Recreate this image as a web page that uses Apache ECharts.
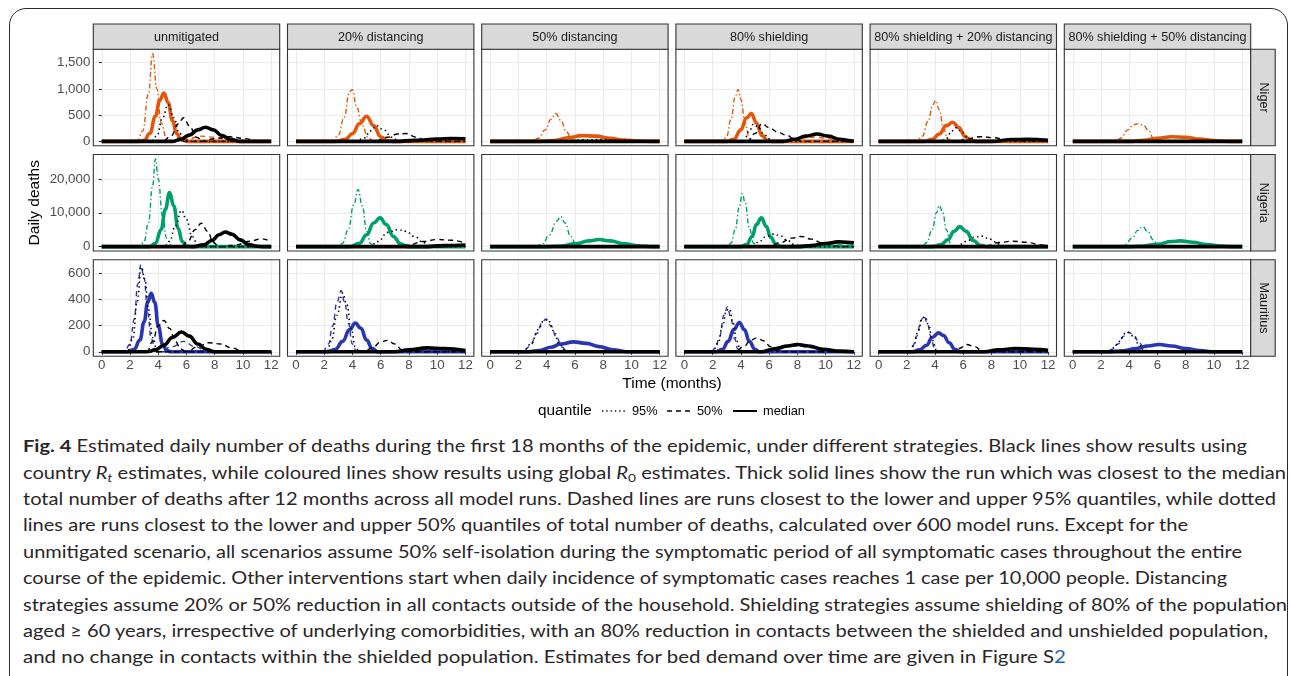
<!DOCTYPE html>
<html><head><meta charset="utf-8">
<script src="https://cdn.jsdelivr.net/npm/echarts@6/dist/echarts.min.js"></script>
<style>
html,body{margin:0;padding:0;background:#fff;width:1290px;height:676px;overflow:hidden;}
#frame{position:absolute;left:9px;top:8px;width:1279px;height:740px;border:1.5px solid #2b2b2b;border-radius:17px;box-sizing:border-box;}
#chart{position:absolute;left:0;top:0;width:1290px;height:430px;}
#caption{position:absolute;left:23px;top:433.3px;font-family:Lato,'Open Sans',sans-serif;font-size:17px;color:#2a2627;}
#caption div{height:26.4px;line-height:26.4px;white-space:nowrap;transform-origin:0 50%;width:max-content;}
#caption sub{font-size:0.68em;line-height:0;vertical-align:-0.28em;}
</style></head>
<body>
<div id="frame"></div>
<div id="chart"></div>
<div id="caption">
<div data-w="1224"><b>Fig. 4</b> Estimated daily number of deaths during the first 18 months of the epidemic, under different strategies. Black lines show results using</div>
<div data-w="1263">country <i>R<sub>t</sub></i> estimates, while coloured lines show results using global <i>R</i><sub>0</sub> estimates. Thick solid lines show the run which was closest to the median</div>
<div data-w="1253">total number of deaths after 12 months across all model runs. Dashed lines are runs closest to the lower and upper 95% quantiles, while dotted</div>
<div data-w="1165">lines are runs closest to the lower and upper 50% quantiles of total number of deaths, calculated over 600 model runs. Except for the</div>
<div data-w="1219">unmitigated scenario, all scenarios assume 50% self-isolation during the symptomatic period of all symptomatic cases throughout the entire</div>
<div data-w="1204">course of the epidemic. Other interventions start when daily incidence of symptomatic cases reaches 1 case per 10,000 people. Distancing</div>
<div data-w="1264">strategies assume 20% or 50% reduction in all contacts outside of the household. Shielding strategies assume shielding of 80% of the population</div>
<div data-w="1245">aged ≥ 60 years, irrespective of underlying comorbidities, with an 80% reduction in contacts between the shielded and unshielded population,</div>
<div data-w="1043">and no change in contacts within the shielded population. Estimates for bed demand over time are given in Figure S<span style="color:#2a5db0">2</span></div>
</div>
<script>
// ---------- categories / ticks ----------
const scenarios = ['unmitigated','20% distancing','50% distancing','80% shielding','80% shielding + 20% distancing','80% shielding + 50% distancing'];
const countries = ['Niger','Nigeria','Mauritius'];
const xTicks = [0,2,4,6,8,10,12];
const nigerTicks = [0,500,1000,1500];
const nigeriaTicks = [0,10000,20000];
const mauritiusTicks = [0,200,400,600];
const nigerMax = 1669, nigeriaMax = 25940, mauritiusMax = 673;

// ---------- Niger (points: [month, daily deaths]) ----------
const nigerColUp = [
 [[0,0],[2.5,0],[2.9,200],[3.3,900],[3.6,1669],[3.9,1000],[4.2,350],[4.6,50],[5.0,0],[12,0]],
 [[0,0],[2.6,0],[3.0,120],[3.4,450],[3.8,950],[4.0,985],[4.3,650],[4.7,300],[5.1,80],[5.5,0],[12,0]],
 [[0,0],[3.0,0],[3.4,60],[3.9,220],[4.3,420],[4.65,530],[5.0,400],[5.4,180],[5.8,40],[6.2,0],[12,0]],
 [[0,0],[2.7,0],[3.0,100],[3.3,420],[3.6,850],[3.8,990],[4.0,800],[4.3,350],[4.6,60],[4.9,0],[12,0]],
 [[0,0],[2.7,0],[3.1,100],[3.5,380],[3.85,700],[4.05,780],[4.3,600],[4.6,250],[4.9,50],[5.2,0],[12,0]],
 [[0,0],[3.0,0],[3.4,60],[3.9,220],[4.3,320],[4.7,340],[5.0,300],[5.4,200],[5.7,60],[6.0,0],[12,0]]
];
const nigerColMed = [
 [[0,0],[2.6,0],[3.0,20],[3.4,150],[3.8,480],[4.1,780],[4.4,920],[4.7,740],[5.0,400],[5.3,150],[5.6,40],[6.0,0],[12,0]],
 [[0,0],[2.8,0],[3.5,40],[4.0,150],[4.5,340],[5.0,480],[5.5,300],[6.0,90],[6.5,10],[7.0,0],[12,0]],
 [[0,0],[3.5,0],[4.5,15],[5.5,70],[6.5,110],[7.5,100],[8.5,60],[9.5,25],[10.5,5],[11.5,0],[12,0]],
 [[0,0],[3.0,0],[3.5,40],[4.0,220],[4.4,450],[4.75,530],[5.1,350],[5.5,110],[5.9,15],[6.2,0],[12,0]],
 [[0,0],[3.2,0],[3.8,40],[4.3,140],[4.8,300],[5.25,365],[5.7,260],[6.1,100],[6.5,20],[7.0,0],[12,0]],
 [[0,0],[4.0,0],[5.0,20],[6.0,60],[7.0,90],[8.0,80],[9.0,45],[10.0,15],[11.0,0],[12,0]]
];
const nigerColLow = [
 [[0,0],[5,0],[6,40],[7,100],[8,80],[9,30],[10,0],[12,0]],
 [[0,0],[6,0],[8,20],[10,25],[12,10]],
 [],
 [[0,0],[6.5,0],[7.5,30],[8.5,70],[9.3,85],[10,60],[11,15],[12,0]],
 [],
 []
];
const nigerBlkDot = [
 [[0,0],[3.5,0],[3.9,100],[4.3,450],[4.7,700],[5.1,450],[5.5,150],[6.0,20],[6.5,0],[12,0]],
 [[0,0],[4.2,0],[4.8,60],[5.3,200],[5.7,300],[6.2,220],[6.8,80],[7.3,0],[12,0]],
 [[0,0],[5,0],[6.5,30],[8,35],[9.5,20],[11,0],[12,0]],
 [[0,0],[4.2,0],[4.6,200],[4.9,330],[5.2,280],[5.6,150],[6.0,50],[6.5,0],[12,0]],
 [[0,0],[4.4,0],[4.8,60],[5.2,200],[5.5,260],[5.9,180],[6.3,70],[6.8,0],[12,0]],
 []
];
const nigerBlkDash = [
 [[0,0],[4.3,0],[4.9,100],[5.4,330],[5.8,450],[6.2,300],[6.7,80],[7.2,0],[12,0]],
 [[0,0],[5.5,0],[6.5,80],[7.2,140],[7.8,150],[8.5,80],[9.2,20],[10,0],[12,0]],
 [],
 [[0,0],[4.5,0],[5.0,150],[5.5,340],[6.0,260],[6.6,180],[7.2,120],[7.8,50],[8.3,0],[12,0]],
 [[0,0],[5.5,0],[6.3,50],[7.2,90],[8.2,70],[9.0,30],[10,0],[12,0]],
 []
];
const nigerBlkLow = [
 [[0,0],[7,0],[8,50],[9,90],[10,60],[11,15],[12,0]],
 [],[],[],[],[]
];
const nigerBlkMed = [
 [[0,0],[5.0,0],[5.6,40],[6.2,120],[6.8,220],[7.35,270],[7.9,220],[8.5,110],[9.1,40],[9.8,0],[12,0]],
 [[0,0],[7,0],[8.5,20],[10,45],[11,55],[12,50]],
 [[0,0],[12,0]],
 [[0,0],[7,0],[7.8,40],[8.6,100],[9.4,140],[10.2,100],[11,40],[11.8,10],[12,5]],
 [[0,0],[8,0],[9.5,35],[10.5,40],[12,20]],
 [[0,0],[12,0]]
];

// ---------- Nigeria ----------
const nigeriaColUp = [
 [[0,0],[2.7,0],[3.0,1500],[3.3,7000],[3.6,18000],[3.8,25940],[4.0,20000],[4.3,9000],[4.6,2500],[4.9,300],[5.1,0],[12,0]],
 [[0,0],[3.0,0],[3.3,1000],[3.7,5000],[4.1,12500],[4.4,16900],[4.7,12000],[5.0,4500],[5.3,800],[5.6,0],[12,0]],
 [[0,0],[3.2,0],[3.7,800],[4.2,3500],[4.7,7500],[5.0,8900],[5.3,7000],[5.7,3000],[6.1,500],[6.5,0],[12,0]],
 [[0,0],[3.0,0],[3.3,1000],[3.6,5000],[3.9,12000],[4.1,15700],[4.3,13000],[4.6,5500],[4.9,1000],[5.2,0],[12,0]],
 [[0,0],[3.1,0],[3.4,1200],[3.8,5000],[4.1,10000],[4.3,12200],[4.55,10000],[4.8,5000],[5.1,1000],[5.3,0],[12,0]],
 [[0,0],[3.3,0],[3.7,600],[4.2,2500],[4.6,4800],[4.95,5900],[5.3,4500],[5.7,2000],[6.0,600],[6.3,0],[12,0]]
];
const nigeriaColMed = [
 [[0,0],[3.4,0],[3.8,1000],[4.2,5000],[4.5,11000],[4.8,16000],[5.1,12000],[5.4,5500],[5.7,1500],[6.0,200],[6.3,0],[12,0]],
 [[0,0],[3.8,0],[4.5,1000],[5.0,3500],[5.5,7000],[5.95,8500],[6.4,6500],[6.9,3000],[7.4,800],[7.9,0],[12,0]],
 [[0,0],[4,0],[5,200],[6,800],[7,1700],[7.7,2100],[8.5,1700],[9.5,800],[10.5,250],[11.5,0],[12,0]],
 [[0,0],[4.0,0],[4.4,600],[4.8,3000],[5.1,6500],[5.45,8500],[5.8,6000],[6.1,2800],[6.5,600],[6.9,0],[12,0]],
 [[0,0],[3.8,0],[4.4,500],[4.9,2000],[5.35,4500],[5.75,5900],[6.2,4500],[6.7,1800],[7.2,400],[7.7,0],[12,0]],
 [[0,0],[4,0],[5,200],[6,700],[7,1500],[7.6,1700],[8.5,1300],[9.5,600],[10.5,150],[11.5,0],[12,0]]
];
const nigeriaColLow = [
 [[0,0],[6.5,0],[7.5,200],[8.5,300],[9.5,200],[10.5,0],[12,0]],
 [],[],
 [[0,0],[8,0],[9.5,300],[11,500],[12,400]],
 [],[]
];
const nigeriaBlkDot = [
 [[0,0],[4.4,0],[4.8,1500],[5.2,6000],[5.65,10700],[6.0,8000],[6.4,3000],[6.8,500],[7.1,0],[12,0]],
 [[0,0],[5.2,0],[5.8,1500],[6.5,4200],[7.2,5000],[7.8,4500],[8.4,3000],[9.0,1200],[9.6,0],[12,0]],
 [[0,0],[7,0],[9,200],[11,300],[12,200]],
 [[0,0],[4.8,0],[5.3,1500],[5.8,3000],[6.3,3700],[6.8,3200],[7.3,1800],[7.8,600],[8.3,0],[12,0]],
 [[0,0],[5.5,0],[6.2,1500],[6.8,2800],[7.3,3100],[7.9,2200],[8.5,800],[9.0,0],[12,0]],
 []
];
const nigeriaBlkDash = [
 [[0,0],[5.6,0],[6.1,1500],[6.6,5000],[7.05,6900],[7.5,4500],[7.9,1200],[8.3,0],[12,0]],
 [[0,0],[7,0],[8,500],[9,1500],[10,2100],[11,1900],[12,1000]],
 [],
 [[0,0],[6,0],[6.8,1200],[7.6,2500],[8.3,3000],[9,2200],[9.8,1000],[10.5,300],[11,0],[12,0]],
 [[0,0],[7.5,0],[8.5,1200],[9.5,1600],[10.5,1300],[11.5,500],[12,200]],
 []
];
const nigeriaBlkLow = [
 [[0,0],[8.5,0],[9.5,500],[10.5,1600],[11.3,2300],[12,1500]],
 [],[],[],[],[]
];
const nigeriaBlkMed = [
 [[0,0],[6.5,0],[7.2,500],[7.8,1800],[8.3,3500],[8.75,4300],[9.2,3700],[9.8,2000],[10.4,600],[11,100],[11.5,0],[12,0]],
 [[0,0],[9,0],[10.5,300],[12,500]],
 [[0,0],[12,0]],
 [[0,0],[8,0],[9,300],[10,900],[10.9,1400],[11.5,1300],[12,1100]],
 [[0,0],[12,0]],
 [[0,0],[12,0]]
];

// ---------- Mauritius ----------
const mauritiusColUp = [
 [[0,0],[1.6,0],[2.0,60],[2.3,250],[2.55,520],[2.77,668],[3.0,560],[3.25,300],[3.5,100],[3.8,15],[4.0,0],[12,0]],
 [[0,0],[1.9,0],[2.3,60],[2.6,200],[2.9,380],[3.2,470],[3.45,380],[3.7,220],[4.0,60],[4.3,0],[12,0]],
 [[0,0],[2.3,0],[2.8,40],[3.3,140],[3.7,230],[3.95,252],[4.3,200],[4.7,110],[5.1,35],[5.5,0],[12,0]],
 [[0,0],[1.9,0],[2.2,30],[2.5,120],[2.8,280],[3.05,345],[3.3,260],[3.55,100],[3.8,20],[4.0,0],[12,0]],
 [[0,0],[2.1,0],[2.4,40],[2.7,120],[3.0,240],[3.2,277],[3.45,220],[3.7,120],[3.95,30],[4.2,0],[12,0]],
 [[0,0],[2.4,0],[2.8,20],[3.2,60],[3.6,120],[3.95,150],[4.3,130],[4.7,70],[5.1,15],[5.4,0],[12,0]]
];
const mauritiusColMed = [
 [[0,0],[1.8,0],[2.3,20],[2.7,90],[3.0,230],[3.25,380],[3.5,448],[3.75,380],[4.0,200],[4.3,60],[4.6,10],[4.9,0],[12,0]],
 [[0,0],[2.2,0],[2.8,20],[3.3,80],[3.8,170],[4.2,220],[4.6,180],[5.0,90],[5.4,25],[5.8,0],[12,0]],
 [[0,0],[2.5,0],[3.5,10],[4.3,35],[5.0,60],[5.9,76],[6.8,65],[7.7,40],[8.7,15],[9.7,0],[12,0]],
 [[0,0],[2.2,0],[2.7,20],[3.1,80],[3.5,170],[3.9,225],[4.25,170],[4.6,80],[5.0,20],[5.3,0],[12,0]],
 [[0,0],[2.4,0],[2.9,15],[3.4,50],[3.8,110],[4.25,145],[4.6,125],[5.0,70],[5.4,20],[5.8,0],[12,0]],
 [[0,0],[2.5,0],[3.5,8],[4.5,25],[5.3,45],[6.1,56],[7.0,45],[8.0,25],[9.0,10],[10,0],[12,0]]
];
const mauritiusColLow = [
 [[0,0],[4,0],[5,40],[5.8,80],[6.6,40],[7.5,0],[12,0]],
 [[0,0],[7,0],[9,20],[11,15],[12,5]],
 [],
 [[0,0],[5,0],[6,20],[7,40],[8,45],[9,30],[10,10],[11,0],[12,0]],
 [[0,0],[8,0],[10,15],[12,10]],
 []
];
const mauritiusBlkDot = [
 [[0,0],[1.8,0],[2.2,100],[2.5,380],[2.8,650],[3.05,560],[3.3,330],[3.6,110],[3.9,20],[4.1,0],[12,0]],
 [[0,0],[2.2,0],[2.5,80],[2.9,280],[3.3,450],[3.6,360],[3.9,180],[4.2,40],[4.5,0],[12,0]],
 [[0,0],[2.3,0],[2.9,60],[3.4,170],[3.8,240],[4.1,245],[4.5,160],[4.9,60],[5.3,10],[5.6,0],[12,0]],
 [[0,0],[2.0,0],[2.4,70],[2.7,200],[3.0,320],[3.2,330],[3.45,220],[3.7,80],[4.0,10],[4.2,0],[12,0]],
 [[0,0],[2.2,0],[2.5,50],[2.8,160],[3.1,260],[3.3,270],[3.55,200],[3.8,90],[4.1,15],[4.3,0],[12,0]],
 [[0,0],[2.5,0],[2.9,30],[3.3,80],[3.7,140],[3.95,148],[4.3,120],[4.7,55],[5.0,10],[5.3,0],[12,0]]
];
const mauritiusBlkDash = [
 [[0,0],[3.2,0],[3.6,80],[4.0,200],[4.4,240],[4.8,180],[5.2,80],[5.6,20],[6.0,0],[12,0]],
 [[0,0],[4.8,0],[5.4,30],[6.0,75],[6.5,88],[7.0,60],[7.5,15],[8.0,0],[12,0]],
 [],
 [[0,0],[3.6,0],[4.2,40],[4.7,90],[5.15,107],[5.6,85],[6.1,40],[6.6,10],[7.0,0],[12,0]],
 [[0,0],[5.2,0],[5.7,25],[6.25,56],[6.8,40],[7.3,10],[7.7,0],[12,0]],
 []
];
const mauritiusBlkLow = [
 [[0,0],[6,0],[6.8,40],[7.6,70],[8.4,60],[9.2,30],[10,5],[10.5,0],[12,0]],
 [],[],[],[],[]
];
const mauritiusBlkMed = [
 [[0,0],[3.2,0],[3.8,15],[4.4,50],[5.0,110],[5.65,152],[6.2,120],[6.8,60],[7.4,20],[8.0,0],[12,0]],
 [[0,0],[7,0],[8,15],[9.3,30],[10.5,25],[12,10]],
 [[0,0],[12,0]],
 [[0,0],[5.5,0],[6.5,25],[7.3,45],[8.0,56],[8.8,45],[9.8,20],[11,5],[12,0]],
 [[0,0],[7.5,0],[8.5,15],[9.7,25],[11,20],[12,12]],
 [[0,0],[12,0]]
];

// ---------- layout / style ----------
const P_LEFT = 93.3, P_PITCH_X = 194.2, P_W = 186.4;
const P_TOP = 49.3, P_PITCH_Y = 105.2, P_H = 96.5;
const FONT = "'Liberation Sans', Arial, sans-serif";
const DASH = [5, 4], DOT = [1.4, 3.2], DASHDOT = [5, 2.5, 1.4, 2.5];

const rows = [
  {color:'#E4570B', ticks:nigerTicks, max:nigerMax, upType:DASHDOT,
   up:nigerColUp, med:nigerColMed, low:nigerColLow, kDot:nigerBlkDot, kDash:nigerBlkDash, kLow:nigerBlkLow, kMed:nigerBlkMed},
  {color:'#009E6A', ticks:nigeriaTicks, max:nigeriaMax, upType:DASHDOT,
   up:nigeriaColUp, med:nigeriaColMed, low:nigeriaColLow, kDot:nigeriaBlkDot, kDash:nigeriaBlkDash, kLow:nigeriaBlkLow, kMed:nigeriaBlkMed},
  {color:'#2A36B1', ticks:mauritiusTicks, max:mauritiusMax, upType:DASH,
   up:mauritiusColUp, med:mauritiusColMed, low:mauritiusColLow, kDot:mauritiusBlkDot, kDash:mauritiusBlkDash, kLow:mauritiusBlkLow, kMed:mauritiusBlkMed}
];

const grids = [], xAxes = [], yAxes = [], series = [], graphics = [];
const fmt = v => Number(v).toLocaleString('en-US');

rows.forEach((row, r) => {
  scenarios.forEach((sc, c) => {
    const gi = r * 6 + c;
    const left = P_LEFT + c * P_PITCH_X, top = P_TOP + r * P_PITCH_Y;
    grids.push({left, top, width: P_W, height: P_H, show: true, borderColor: '#333', borderWidth: 1.1, backgroundColor: 'rgba(0,0,0,0)', z: 5});
    xAxes.push({type:'value', gridIndex: gi, min: -0.6, max: 12.6,
      axisLine:{show:false},
      axisTick:{show: r === 2, length: 3, lineStyle:{color:'#333', width:1.1}, customValues: xTicks},
      axisLabel:{show: r === 2, customValues: xTicks, color:'#4D4D4D', fontSize:13.3, fontFamily:FONT, margin:3},
      splitLine:{show:true, lineStyle:{color:'#EBEBEB', width:1.1}}});
    yAxes.push({type:'value', gridIndex: gi, min: -0.05 * row.max, max: 1.05 * row.max,
      axisLine:{show:false},
      axisTick:{show: c === 0, length: 3, lineStyle:{color:'#333', width:1.1}, customValues: row.ticks},
      axisLabel:{show: c === 0, customValues: row.ticks, color:'#4D4D4D', fontSize:13.3, fontFamily:FONT, margin:3, formatter: fmt},
      splitLine:{show:true, lineStyle:{color:'#EBEBEB', width:1.1}}});
    const add = (data, color, width, type) => {
      if (!data || !data.length) return;
      series.push({type:'line', xAxisIndex: gi, yAxisIndex: gi, data, showSymbol:false, symbol:'none',
        smooth: 0.45, smoothMonotone:'x', silent:true, animation:false,
        lineStyle:{color, width, type, cap:'butt', join:'round'}});
    };
    add(row.low[c], row.color, 1.4, DASH);
    add(row.up[c], row.color, 1.4, row.upType);
    add(row.med[c], row.color, 3.6, 'solid');
    add(row.kLow[c], '#000', 1.4, DASH);
    add(row.kDash[c], '#000', 1.4, DASH);
    add(row.kDot[c], '#000', 1.6, DOT);
    add(row.kMed[c], '#000', 3.6, 'solid');
  });
});

// strips (top)
scenarios.forEach((sc, c) => {
  const left = P_LEFT + c * P_PITCH_X;
  graphics.push({type:'rect', shape:{x:left, y:24, width:P_W, height:P_TOP - 24}, style:{fill:'#D9D9D9', stroke:'#333', lineWidth:1.1}, z:10});
  graphics.push({type:'text', x: left + P_W / 2, y: (24 + P_TOP) / 2 + 0.5, style:{text: sc, fill:'#1A1A1A', font: `12.6px ${FONT}`, textAlign:'center', textVerticalAlign:'middle'}, z:11});
});
// strips (right)
countries.forEach((cn, r) => {
  const top = P_TOP + r * P_PITCH_Y;
  const x0 = P_LEFT + 5 * P_PITCH_X + P_W;
  graphics.push({type:'rect', shape:{x:x0, y:top, width:24.5, height:P_H}, style:{fill:'#D9D9D9', stroke:'#333', lineWidth:1.1}, z:10});
  graphics.push({type:'text', x: x0 + 12.5, y: top + P_H / 2, rotation: -Math.PI / 2, style:{text: cn, fill:'#1A1A1A', font: `12.6px ${FONT}`, textAlign:'center', textVerticalAlign:'middle'}, z:11});
});
// axis titles
graphics.push({type:'text', x: 35, y: P_TOP + (2 * P_PITCH_Y + P_H) / 2, rotation: Math.PI / 2, style:{text:'Daily deaths', fill:'#000', font:`15.5px ${FONT}`, textAlign:'center', textVerticalAlign:'middle'}});
graphics.push({type:'text', x: P_LEFT + (5 * P_PITCH_X + P_W) / 2, y: 384, style:{text:'Time (months)', fill:'#000', font:`15.5px ${FONT}`, textAlign:'center', textVerticalAlign:'middle'}});
// legend
const LY = 411;
graphics.push({type:'text', x:538, y:LY, style:{text:'quantile', fill:'#000', font:`15.4px ${FONT}`, textAlign:'left', textVerticalAlign:'middle'}});
graphics.push({type:'line', shape:{x1:602, y1:LY, x2:626, y2:LY}, style:{stroke:'#000', lineWidth:1.3, lineDash:[1.3,3]}});
graphics.push({type:'text', x:632, y:LY, style:{text:'95%', fill:'#000', font:`12.8px ${FONT}`, textAlign:'left', textVerticalAlign:'middle'}});
graphics.push({type:'line', shape:{x1:667, y1:LY, x2:691, y2:LY}, style:{stroke:'#000', lineWidth:1.3, lineDash:[5,4]}});
graphics.push({type:'text', x:697, y:LY, style:{text:'50%', fill:'#000', font:`12.8px ${FONT}`, textAlign:'left', textVerticalAlign:'middle'}});
graphics.push({type:'line', shape:{x1:733, y1:LY, x2:757, y2:LY}, style:{stroke:'#000', lineWidth:2}});
graphics.push({type:'text', x:763, y:LY, style:{text:'median', fill:'#000', font:`12.8px ${FONT}`, textAlign:'left', textVerticalAlign:'middle'}});

const chart = echarts.init(document.getElementById('chart'), null, {renderer:'canvas'});
chart.setOption({
  animation:false,
  backgroundColor:'transparent',
  textStyle:{fontFamily:FONT},
  grid: grids, xAxis: xAxes, yAxis: yAxes, series,
  graphic: graphics
});

// caption line fitting
function fitCaption(){
  document.querySelectorAll('#caption div').forEach(el => {
    el.style.transform = 'none';
    const w = el.getBoundingClientRect().width;
    const target = parseFloat(el.dataset.w);
    if (w > 0) el.style.transform = `scaleX(${target / w})`;
  });
}
fitCaption();
if (document.fonts && document.fonts.ready) document.fonts.ready.then(fitCaption);
</script>
</body></html>
